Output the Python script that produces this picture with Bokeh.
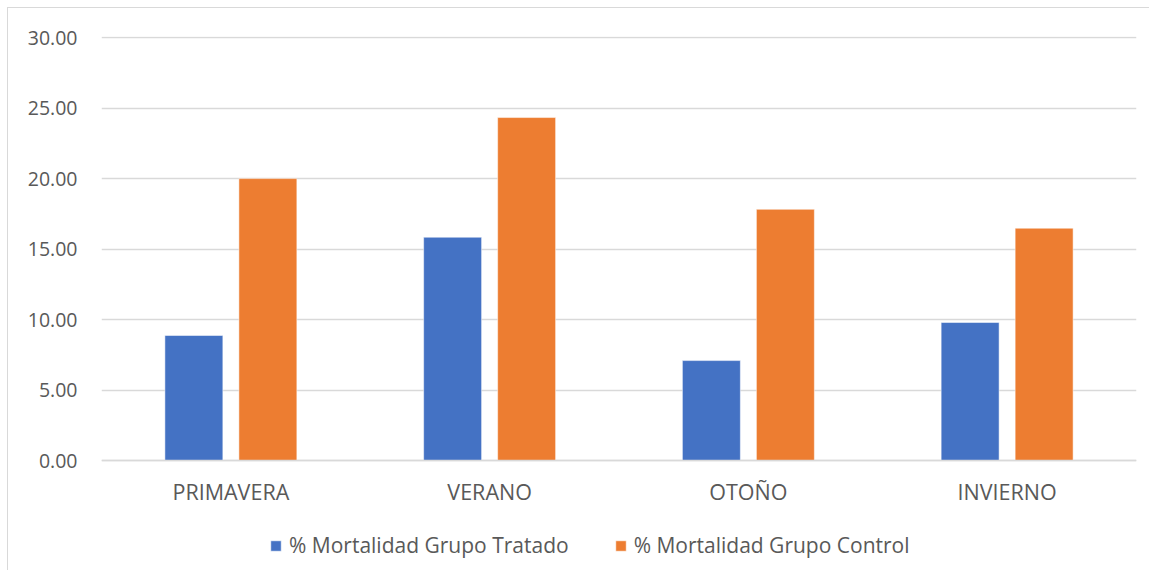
from bokeh.plotting import figure
from bokeh.models import ColumnDataSource, FactorRange, Range1d, NumeralTickFormatter, Legend, LegendItem, FixedTicker
from bokeh.transform import dodge
from bokeh.embed import file_html
from bokeh.resources import INLINE

seasons = ["PRIMAVERA", "VERANO", "OTOÑO", "INVIERNO"]
tratado = [8.87, 15.84, 7.09, 9.79]
control = [20.00, 24.33, 17.82, 16.48]
series_names = ["% Mortalidad Grupo Tratado", "% Mortalidad Grupo Control"]
y_ticks = [0, 5, 10, 15, 20, 25, 30]

FONT = "Open Sans"
TXT = "#595959"
GRID = "#d9d9d9"

src = ColumnDataSource(data=dict(season=seasons, tratado=tratado, control=control))

# frame extends below zero so the legend can sit inside it, under the category axis
p = figure(x_range=FactorRange(*seasons, range_padding=0), y_range=Range1d(-7.80, 30.08),
           width=1149, height=570, output_backend="svg", toolbar_location=None,
           min_border_left=101, min_border_right=13, min_border_top=36, min_border_bottom=0)
p.background_fill_color = None
p.border_fill_color = None
p.styles = {"box-shadow": "inset 7px 7px 0 0 #ffffff, inset 8px 8px 0 0 #d9d9d9",
            "background-color": "#ffffff"}
p.outline_line_color = None

r1 = p.vbar(x=dodge("season", -0.143, range=p.x_range), top="tratado", width=0.224, source=src,
            fill_color="#4472C4", line_color="white", line_width=0.5)
r2 = p.vbar(x=dodge("season", 0.143, range=p.x_range), top="control", width=0.224, source=src,
            fill_color="#ED7D31", line_color="white", line_width=0.5)

p.yaxis.ticker = FixedTicker(ticks=y_ticks)
p.yaxis.formatter = NumeralTickFormatter(format="0.00")
p.yaxis.axis_line_color = None
p.yaxis.major_tick_line_color = None
p.yaxis.minor_tick_line_color = None
p.yaxis.major_label_standoff = 18
p.yaxis.major_label_text_font = FONT
p.yaxis.major_label_text_font_size = "19.5px"
p.yaxis.major_label_text_color = TXT

p.xaxis.fixed_location = 0
p.xaxis.axis_line_color = GRID
p.xaxis.axis_line_width = 1.5
p.xaxis.major_tick_line_color = None
p.xaxis.minor_tick_line_color = None
p.xaxis.major_label_standoff = 10
p.xaxis.major_label_text_font = FONT
p.xaxis.major_label_text_font_size = "21.5px"
p.xaxis.major_label_text_color = TXT

p.xgrid.grid_line_color = None
p.ygrid.grid_line_color = GRID
p.ygrid.grid_line_width = 1.5

legend = Legend(items=[LegendItem(label=series_names[0], renderers=[r1]),
                       LegendItem(label=series_names[1], renderers=[r2])],
                orientation="horizontal", location=(168, 11),
                glyph_width=13, glyph_height=13, label_standoff=7, spacing=45,
                padding=0, margin=0, border_line_color=None, background_fill_alpha=0,
                label_text_font=FONT, label_text_font_size="21px", label_text_color=TXT)
p.add_layout(legend, "center")

open("out.html", "w").write(file_html(p, INLINE))
